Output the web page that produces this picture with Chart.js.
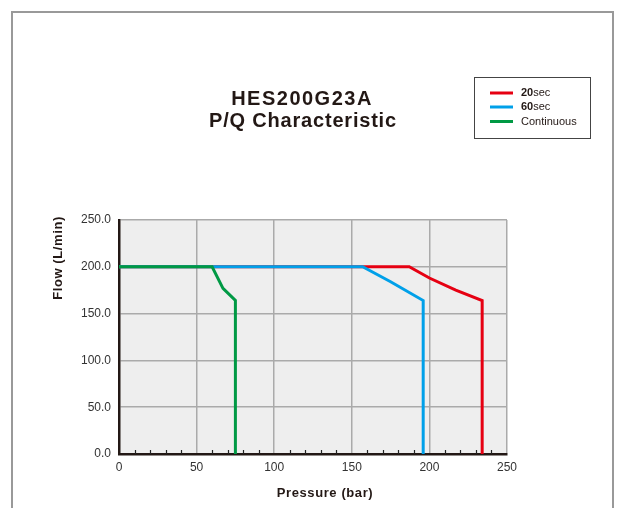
<!DOCTYPE html>
<html>
<head>
<meta charset="utf-8">
<script src="https://cdn.jsdelivr.net/npm/chart.js@4"></script>
<style>
  html, body { margin: 0; padding: 0; background: #fff; }
  #wrap { width: 619px; height: 508px; position: relative; }
</style>
</head>
<body>
<div id="wrap"><canvas id="myChart" width="619" height="508"></canvas></div>
<script>
// data: [pressure (bar), flow (L/min)]
const seriesNames = ["20sec", "60sec", "Continuous"];
const sec20 = [[0, 200], [187, 200], [200, 188], [217, 175], [234, 164], [234, 0]];
const sec60 = [[0, 200], [157, 200], [175, 184], [196, 164], [196, 0]];
const continuous = [[0, 200], [60, 200], [67, 177], [75, 164], [75, 0]];
const xTicks = [0, 50, 100, 150, 200, 250];
const yTicks = [0, 50, 100, 150, 200, 250];
const colors = ["#e60012", "#00a0e9", "#009944"];

const toPts = arr => arr.map(p => ({ x: p[0], y: p[1] }));

const FONT = '"Liberation Sans", Arial, sans-serif';

// background, minor ticks, frame, titles and legend
const decor = {
  id: 'decor',
  beforeDraw(chart) {
    const { ctx, chartArea: a } = chart;
    ctx.save();
    ctx.fillStyle = '#eeeeee';
    ctx.fillRect(a.left, a.top, a.right - a.left, a.bottom - a.top);
    ctx.restore();
  },
  afterDraw(chart) {
    const { ctx, chartArea: a } = chart;
    const xs = chart.scales.x;
    ctx.save();
    // minor ticks on x axis
    ctx.strokeStyle = '#222';
    ctx.lineWidth = 1.2;
    for (let v = 10; v < 250; v += 10) {
      if (v % 50 === 0) continue;
      const px = Math.round(xs.getPixelForValue(v)) + 0.5;
      ctx.beginPath();
      ctx.moveTo(px, a.bottom);
      ctx.lineTo(px, a.bottom - 4);
      ctx.stroke();
    }
    // outer frame
    ctx.strokeStyle = '#999';
    ctx.lineWidth = 2;
    ctx.beginPath();
    ctx.moveTo(12, 508);
    ctx.lineTo(12, 12);
    ctx.lineTo(613, 12);
    ctx.lineTo(613, 508);
    ctx.stroke();

    // title
    ctx.fillStyle = '#231815';
    ctx.textAlign = 'center';
    ctx.textBaseline = 'middle';
    ctx.font = 'bold 20px ' + FONT;
    ctx.letterSpacing = '1.5px';
    ctx.fillText('HES200G23A', 302, 99);
    ctx.letterSpacing = '0.8px';
    ctx.fillText('P/Q Characteristic', 303, 121);

    // axis titles
    ctx.font = 'bold 13px ' + FONT;
    ctx.letterSpacing = '0.6px';
    ctx.fillText('Pressure (bar)', 325, 493);
    ctx.save();
    ctx.translate(58, 258);
    ctx.rotate(-Math.PI / 2);
    ctx.fillText('Flow (L/min)', 0, 0);
    ctx.restore();
    ctx.letterSpacing = '0px';

    // legend
    ctx.strokeStyle = '#444';
    ctx.lineWidth = 1;
    ctx.strokeRect(474.5, 77.5, 116, 61);
    const rows = [93, 107, 121.5];
    chart.data.datasets.forEach((ds, i) => {
      ctx.strokeStyle = ds.borderColor;
      ctx.lineWidth = 3;
      ctx.beginPath();
      ctx.moveTo(490, rows[i]);
      ctx.lineTo(513, rows[i]);
      ctx.stroke();
      ctx.fillStyle = '#231815';
      ctx.textAlign = 'left';
      const m = ds.label.match(/^(\d+)(.*)$/);
      if (m) {
        ctx.font = 'bold 11px ' + FONT;
        ctx.fillText(m[1], 521, rows[i]);
        const w = ctx.measureText(m[1]).width;
        ctx.font = '11px ' + FONT;
        ctx.fillText(m[2], 521 + w, rows[i]);
      } else {
        ctx.font = '11px ' + FONT;
        ctx.fillText(ds.label, 521, rows[i]);
      }
    });
    ctx.restore();
  }
};

const ctx = document.getElementById('myChart').getContext('2d');
new Chart(ctx, {
  type: 'scatter',
  data: {
    datasets: [
      { label: seriesNames[0], data: toPts(sec20), borderColor: colors[0], order: 3 },
      { label: seriesNames[1], data: toPts(sec60), borderColor: colors[1], order: 2 },
      { label: seriesNames[2], data: toPts(continuous), borderColor: colors[2], order: 1 }
    ].map(d => Object.assign(d, {
      showLine: true, borderWidth: 3, pointRadius: 0, fill: false, tension: 0
    }))
  },
  options: {
    responsive: false,
    animation: false,
    layout: { padding: { top: 220, right: 112, left: 0, bottom: 0 } },
    plugins: { legend: { display: false }, tooltip: { enabled: false } },
    scales: {
      x: {
        type: 'linear', min: 0, max: 250,
        afterBuildTicks: s => { s.ticks = xTicks.map(v => ({ value: v })); },
        afterFit: s => { s.height = 54; },
        grid: { color: '#aaaaaa', lineWidth: 1.5, drawTicks: false },
        border: { color: '#231815', width: 2.5 },
        ticks: { color: '#333', font: { family: FONT, size: 12 }, padding: 6, maxRotation: 0 }
      },
      y: {
        type: 'linear', min: 0, max: 250,
        afterBuildTicks: s => { s.ticks = yTicks.map(v => ({ value: v })); },
        afterFit: s => { s.width = 119; },
        grid: { color: '#aaaaaa', lineWidth: 1.5, drawTicks: false },
        border: { color: '#231815', width: 2.5 },
        ticks: { color: '#333', font: { family: FONT, size: 12 }, padding: 8,
                 callback: v => v.toFixed(1) }
      }
    }
  },
  plugins: [decor]
});
</script>
</body>
</html>
